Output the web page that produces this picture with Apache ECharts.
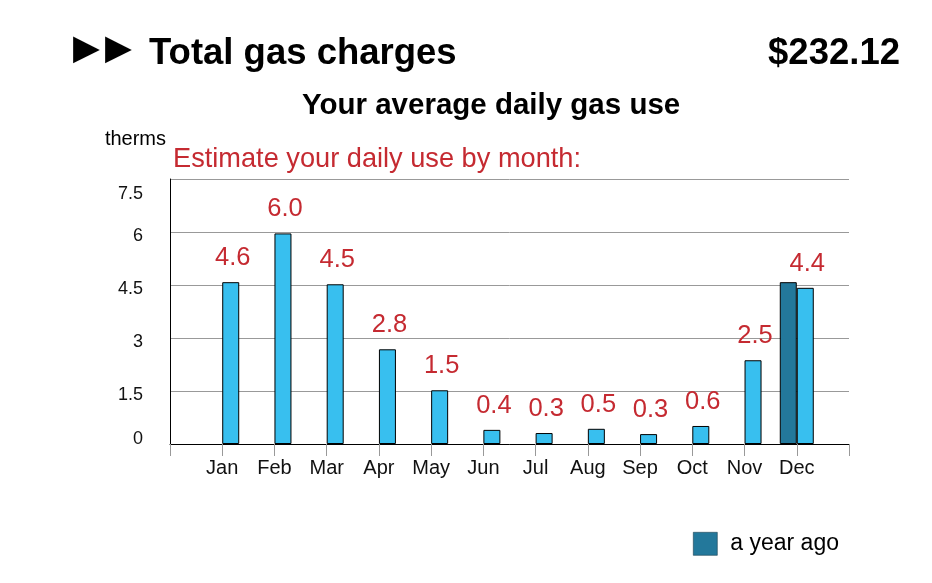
<!DOCTYPE html>
<html>
<head>
<meta charset="utf-8">
<script src="https://cdn.jsdelivr.net/npm/echarts@6/dist/echarts.min.js"></script>
<style>html,body{margin:0;padding:0;background:#fff}#c{width:932px;height:583px}</style>
</head>
<body>
<div id="c"></div>
<script>
var categories = ['', 'Jan', 'Feb', 'Mar', 'Apr', 'May', 'Jun', 'Jul', 'Aug', 'Sep', 'Oct', 'Nov', 'Dec', ''];
var thisYear = [null, 4.58, 5.96, 4.52, 2.68, 1.52, 0.40, 0.31, 0.43, 0.28, 0.51, 2.37, 4.42, null];
var yearAgo = [null, null, null, null, null, null, null, null, null, null, null, null, 4.58, null];
var valueLabels = ['', '4.6', '6.0', '4.5', '2.8', '1.5', '0.4', '0.3', '0.5', '0.3', '0.6', '2.5', '4.4', ''];
var yTicks = [0, 1.5, 3, 4.5, 6, 7.5];
var yTickLabels = ['0', '1.5', '3', '4.5', '6', '7.5'];

var FONT = "'Liberation Sans', Arial, Helvetica, sans-serif";
var TRI = {fontFamily: "'DejaVu Sans', sans-serif", fontSize: 35, color: '#000', fontWeight: 'normal'};
var chart = echarts.init(document.getElementById('c'), null, {renderer: 'canvas'});
chart.setOption({
  backgroundColor: '#fff',
  animation: false,
  textStyle: {fontFamily: FONT},
  title: [
    {text: '\u25B6', left: 68, top: 27, textStyle: TRI},
    {text: '\u25B6', left: 100, top: 27, textStyle: TRI},
    {text: 'Total gas charges', left: 144, top: 30, textStyle: {fontFamily: FONT, fontSize: 36.5, fontWeight: 'bold', color: '#000'}},
    {text: '$232.12', right: 27, top: 30, textStyle: {fontFamily: FONT, fontSize: 36.5, fontWeight: 'bold', color: '#000'}},
    {text: 'Your average daily gas use', left: 297, top: 86, textStyle: {fontFamily: FONT, fontSize: 29.5, fontWeight: 'bold', color: '#000'}},
    {text: 'Estimate your daily use by month:', left: 168, top: 141, textStyle: {fontFamily: FONT, fontSize: 27.2, fontWeight: 'normal', color: '#c52a31'}}
  ],
  legend: {
    data: ['a year ago'],
    left: 688, top: 527,
    itemWidth: 24, itemHeight: 23, icon: 'rect',
    itemGap: 10,
    itemStyle: {borderWidth: 0.6, borderColor: '#1a3f50'},
    textStyle: {fontFamily: FONT, fontSize: 23, color: '#000', padding: [0, 0, 0, 8]}
  },
  grid: {left: 170, right: 83, top: 179, bottom: 139, containLabel: false},
  xAxis: {
    type: 'category',
    data: categories,
    boundaryGap: false,
    axisLine: {lineStyle: {color: '#000', width: 1}},
    axisTick: {show: true, length: 12, lineStyle: {color: '#999'}},
    axisLabel: {interval: 0, fontFamily: FONT, fontSize: 20, color: '#111', margin: 14},
    splitLine: {show: false}
  },
  yAxis: {
    type: 'value',
    min: 0, max: 7.5, interval: 1.5,
    name: 'therms',
    nameLocation: 'end',
    nameGap: 30,
    nameTextStyle: {fontFamily: FONT, fontSize: 20, color: '#000', align: 'right', padding: [0, 4, 0, 0]},
    axisLine: {show: true, lineStyle: {color: '#000', width: 1}},
    axisTick: {show: false},
    splitLine: {show: true, lineStyle: {color: '#999', width: 1}},
    axisLabel: {
      margin: 27, fontFamily: FONT, fontSize: 18, color: '#111',
      formatter: function (v) {
        var i = yTicks.indexOf(v);
        var t = i >= 0 ? yTickLabels[i] : String(v);
        if (v === 0) return '{up|' + t + '}';
        if (v === 7.5) return '{dn2|' + t + '}';
        return '{dn|' + t + '}';
      },
      rich: {
        up: {fontSize: 18, fontFamily: FONT, color: '#111', padding: [0, 0, 10, 0]},
        dn: {fontSize: 18, fontFamily: FONT, color: '#111', padding: [9, 0, 0, 0]},
        dn2: {fontSize: 18, fontFamily: FONT, color: '#111', padding: [30, 0, 0, 0]}
      }
    }
  },
  series: [
    {
      name: 'a year ago', type: 'bar', data: yearAgo,
      barWidth: 17, barGap: '0%',
      itemStyle: {color: '#23789b', borderColor: '#000', borderWidth: 1}
    },
    {
      name: 'this year', type: 'bar', data: thisYear,
      barWidth: 17, barGap: '0%',
      itemStyle: {color: '#38bfef', borderColor: '#000', borderWidth: 1},
      label: {
        show: true, position: 'top', distance: 11, offset: [2, 0],
        fontFamily: FONT, fontSize: 25.5, color: '#c52a31',
        formatter: function (p) { return valueLabels[p.dataIndex]; }
      }
    }
  ]
});
</script>
</body>
</html>
